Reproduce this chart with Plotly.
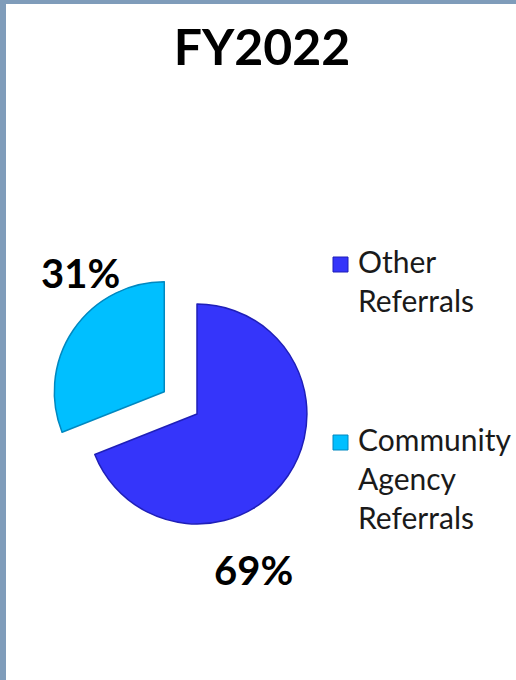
import plotly.graph_objects as go

# Referral sources for FY2022 (percent of total)
categories = ["Other Referrals", "Community Agency Referrals"]
legend_text = ["Other<br>Referrals", "Community<br>Agency<br>Referrals"]
values = [69, 31]
pulls = [0, 0.36]
colors = ["#3535FA", "#00BFFF"]
edge_colors = ["#1F1FB8", "#0088C0"]

W, H = 516, 680
FONT = "Lato"
FRAME = "#7F9CBA"


def px(x):
    return x / W


def py(y):
    return 1 - y / H


fig = go.Figure()

fig.add_trace(go.Pie(
    labels=categories,
    values=values,
    sort=False,
    direction="clockwise",
    rotation=0,
    pull=pulls,
    marker=dict(colors=colors, line=dict(color=edge_colors, width=1.5)),
    textinfo="none",
    hoverinfo="label+percent",
    showlegend=False,
    domain=dict(x=[px(47.5), px(346.5)], y=[py(563.5), py(264.5)]),
))

# slice value labels
label_pos = [(253, 570), (80, 273)]
for v, (lx, ly) in zip(values, label_pos):
    fig.add_annotation(
        x=px(lx), y=py(ly), xref="paper", yref="paper",
        text=f"<b>{v}%</b>", showarrow=False,
        xanchor="center", yanchor="middle",
        font=dict(family=FONT, size=40, color="#000000"),
    )

# legend: swatch + wrapped label
legend_rows = [257, 435]
for txt, col, edge, ry in zip(legend_text, colors, edge_colors, legend_rows):
    fig.add_shape(
        type="rect", xref="paper", yref="paper",
        x0=px(333), x1=px(348), y0=py(ry), y1=py(ry + 15),
        fillcolor=col, line=dict(color=edge, width=1),
    )
    fig.add_annotation(
        x=px(356), y=py(ry - 16), xref="paper", yref="paper",
        text=txt, showarrow=False, align="left",
        xanchor="left", yanchor="top",
        font=dict(family=FONT, size=30, color="#1A1A1A"),
    )

# slide frame strips on top and left edges
fig.add_shape(type="rect", xref="paper", yref="paper",
              x0=0, x1=1, y0=py(4), y1=1,
              fillcolor=FRAME, line=dict(width=0), layer="below")
fig.add_shape(type="rect", xref="paper", yref="paper",
              x0=0, x1=px(6), y0=0, y1=1,
              fillcolor=FRAME, line=dict(width=0), layer="below")

fig.update_layout(
    width=W, height=H,
    margin=dict(l=0, r=0, t=0, b=0),
    paper_bgcolor="#FFFFFF",
    plot_bgcolor="#FFFFFF",
    title=dict(
        text="<b>FY2022</b>", x=px(262), xanchor="center",
        y=py(47), yanchor="middle",
        font=dict(family=FONT, size=50, color="#000000"),
    ),
)

fig.write_html("out.html")
